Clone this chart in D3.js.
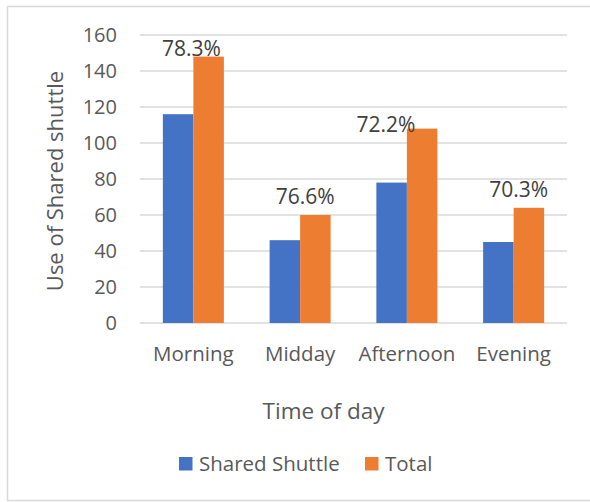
<!DOCTYPE html>
<html>
<head>
<meta charset="utf-8">
<script src="https://cdn.jsdelivr.net/npm/d3@7"></script>
<style>
  body { margin: 0; background: #fff; }
  text { font-family: "Open Sans", sans-serif; }
</style>
</head>
<body>
<div id="chart"></div>
<script>
// chart data
var categories  = ["Morning", "Midday", "Afternoon", "Evening"];
var seriesNames = ["Shared Shuttle", "Total"];
var sharedShuttle = [116, 46, 78, 45];
var total         = [148, 60, 108, 64];
var shareLabels   = ["78.3%", "76.6%", "72.2%", "70.3%"];
var yTicks        = [0, 20, 40, 60, 80, 100, 120, 140, 160];

var colors = ["#4472C4", "#ED7D31"];

// hand nudges for the share labels (px), they were placed by hand in the original
var labelDx = [-2, 5, -21, 5];
var labelDy = [-1, -11, 3, -11];

var width  = 590;
var height = 502;
var plot   = { left: 140, right: 567, top: 35, bottom: 323 };

var svg = d3.select("#chart")
            .append("svg")
            .attr("width", width)
            .attr("height", height);

// chart area border
svg.append("rect")
   .attr("x", 7.5)
   .attr("y", 6.5)
   .attr("width", 620)
   .attr("height", 494)
   .style("fill", "white")
   .style("stroke", "#D9D9D9")
   .style("stroke-width", 1.5);

var x0 = d3.scaleBand()
           .domain(categories)
           .range([plot.left, plot.right])
           .paddingInner(0.4286)
           .paddingOuter(0.2143);

var x1 = d3.scaleBand()
           .domain(seriesNames)
           .range([0, x0.bandwidth()]);

var y = d3.scaleLinear()
          .domain([0, 160])
          .range([plot.bottom, plot.top]);

// gridlines
svg.append("g")
   .selectAll("line")
   .data(yTicks)
   .enter()
     .append("line")
     .attr("x1", plot.left)
     .attr("x2", plot.right)
     .attr("y1", function(d) { return y(d); })
     .attr("y2", function(d) { return y(d); })
     .style("stroke", "#D9D9D9")
     .style("stroke-width", 1.5);

// y axis labels
var yAxis = d3.axisLeft(y).tickValues(yTicks).tickSize(0).tickPadding(0);
var yAxisGroup = svg.append("g")
                    .attr("transform", "translate(117, 0)")
                    .call(yAxis);
yAxisGroup.select(".domain").remove();
yAxisGroup.selectAll("text")
          .style("font-family", "'Open Sans', sans-serif")
          .style("font-size", "20px")
          .style("fill", "#595959");

// x axis labels
var xAxis = d3.axisBottom(x0).tickSize(0).tickPadding(0);
var xAxisGroup = svg.append("g")
                    .attr("transform", "translate(0, 346)")
                    .call(xAxis);
xAxisGroup.select(".domain").remove();
xAxisGroup.selectAll("text")
          .style("font-family", "'Open Sans', sans-serif")
          .style("font-size", "20.5px")
          .style("fill", "#595959");

// bars
var rows = categories.map(function(c, i) {
  return { cat: c, values: [sharedShuttle[i], total[i]] };
});

var groups = svg.append("g")
                .selectAll("g")
                .data(rows)
                .enter()
                  .append("g")
                  .attr("transform", function(d) { return "translate(" + x0(d.cat) + ",0)"; });

groups.selectAll("rect")
      .data(function(d) { return d.values; })
      .enter()
        .append("rect")
        .attr("x", function(d, i) { return x1(seriesNames[i]); })
        .attr("y", function(d) { return y(d); })
        .attr("width", x1.bandwidth())
        .attr("height", function(d) { return y(0) - y(d); })
        .style("fill", function(d, i) { return colors[i]; });

// share labels above the Total bars
svg.append("g")
   .selectAll("text")
   .data(shareLabels)
   .enter()
     .append("text")
     .text(function(d) { return d; })
     .attr("x", function(d, i) { return x0(categories[i]) + x0.bandwidth() / 2 + labelDx[i]; })
     .attr("y", function(d, i) { return y(total[i]) + labelDy[i]; })
     .attr("text-anchor", "middle")
     .style("font-size", "21px")
     .style("fill", "#404040");

// axis titles
svg.append("text")
   .text("Use of Shared shuttle")
   .attr("transform", "translate(63, 181) rotate(-90)")
   .attr("text-anchor", "middle")
   .style("font-size", "22px")
   .style("fill", "#595959");

svg.append("text")
   .text("Time of day")
   .attr("x", 323.5)
   .attr("y", 419)
   .attr("text-anchor", "middle")
   .style("font-size", "22.5px")
   .style("fill", "#595959");

// legend
var legendX = [179, 365];
var legend = svg.append("g")
                .selectAll("g")
                .data(seriesNames)
                .enter()
                  .append("g")
                  .attr("transform", function(d, i) { return "translate(" + legendX[i] + ",457)"; });

legend.append("rect")
      .attr("width", 13.5)
      .attr("height", 13.5)
      .style("fill", function(d, i) { return colors[i]; });

legend.append("text")
      .text(function(d) { return d; })
      .attr("x", 20)
      .attr("y", 14)
      .style("font-size", "20.5px")
      .style("fill", "#595959");
</script>
</body>
</html>
